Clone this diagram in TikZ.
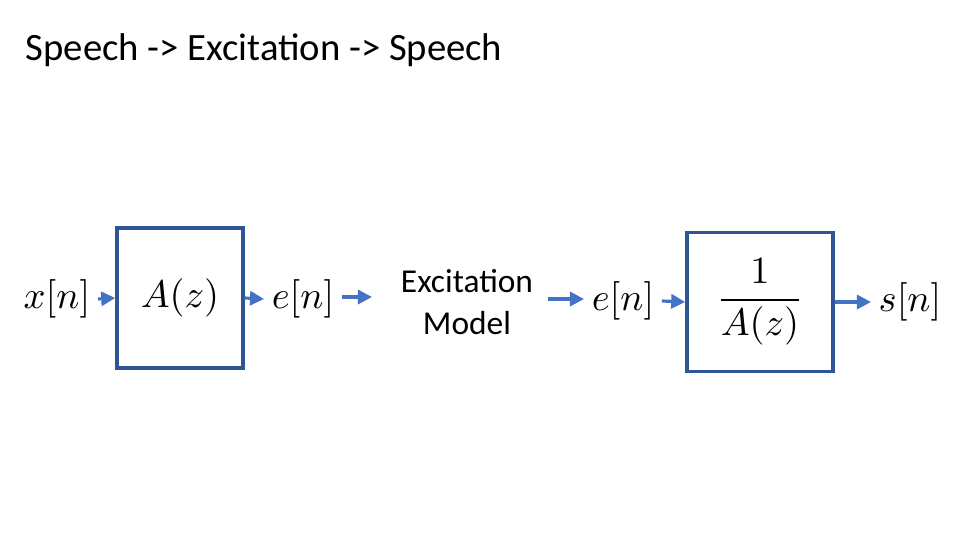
\documentclass[tikz,border=0pt]{standalone}
\usepackage{amsmath}
\usepackage{fontspec}
\setmainfont{Carlito}
\usetikzlibrary{arrows.meta,positioning}
\definecolor{boxblue}{HTML}{2F5597}
\definecolor{arrowblue}{HTML}{4472C4}
\begin{document}
\begin{tikzpicture}[x=0.01cm,y=-0.01cm,>={Triangle[length=4pt,width=4pt]}]
    \tikzstyle{block}=[draw=boxblue,line width=1pt,inner sep=0pt]
    \tikzstyle{sig}=[inner sep=2pt,font=\fontsize{11}{13}\selectfont]
    \tikzstyle{flow}=[->,draw=arrowblue,line width=0.9pt]
    \useasboundingbox (0,0) rectangle (960,540);
    \node [anchor=west,inner sep=0pt,font=\fontsize{11}{13}\selectfont] (title) at (25,50) {Speech -> Excitation -> Speech};
    % first stage
    \node [sig] (xn) at (57,299) {$x[n]$};
    \node [block,minimum width=126*0.01cm,minimum height=140*0.01cm] (boxa) at (180,298) {};
    \node [sig] at (boxa.center) {$A(z)$};
    \node [sig] (en1) at (303,299) {$e[n]$};
    \node [align=center,font=\fontsize{9.5}{12}\selectfont] (exc) at (467,302) {Excitation\\Model};
    \coordinate (excin) at (372,297);
    \coordinate (excout) at (548,299);
    % second stage
    \node [sig] (en2) at (623,301) {$e[n]$};
    \node [block,minimum width=146*0.01cm,minimum height=139*0.01cm] (boxb) at (760,302) {};
    \node [sig] at (boxb.center) {$\dfrac{1}{A(z)}$};
    \node [sig] (sn) at (910,302) {$s[n]$};
    \draw [flow] (xn.east) -- (boxa.west);
    \draw [flow] (boxa.east) -- (en1.west);
    \draw [flow] (en1.east |- excin) -- (excin);
    \draw [flow] (excout) -- (en2.west |- excout);
    \draw [flow] (en2.east) -- (boxb.west);
    \draw [flow] (boxb.east) -- (sn.west);
\end{tikzpicture}
\end{document}
